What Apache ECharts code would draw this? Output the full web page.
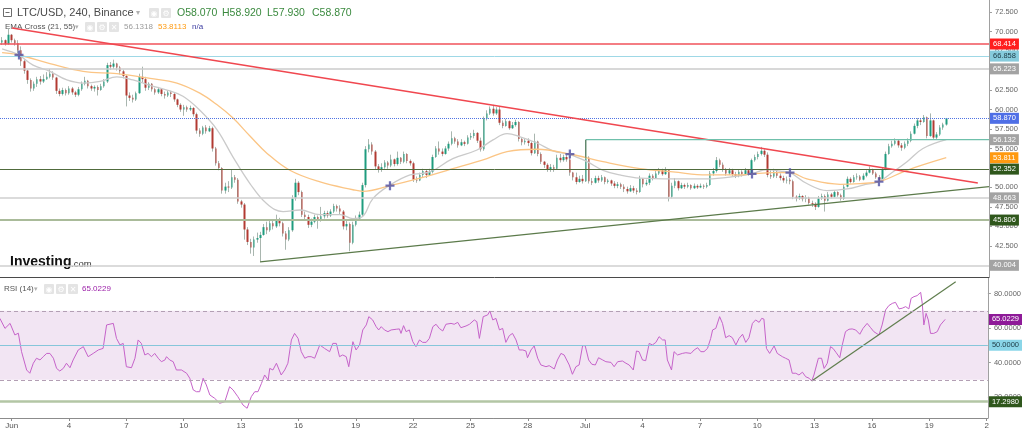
<!DOCTYPE html>
<html><head><meta charset="utf-8">
<script src="https://cdn.jsdelivr.net/npm/echarts@6/dist/echarts.min.js"></script>
<style>html,body{margin:0;padding:0;background:#fff}#c{width:1024px;height:430px}</style>
</head><body><div id="c"></div>
<script>
// ---------- DATA ----------
// 4h candles, index k: k=0 is May 31 12:00, k=3 is Jun 1 00:00 (6 candles per day)
const firstOpen = 68.6;
// [close, high, low]; each candle opens at the previous close
const candles = [
[68.9,69.3,68.3],[68.4,69.0,68.2],[69.6,70.4,68.3],[68.9,69.7,68.6],[68.5,69.1,68.2],[67.6,68.9,67.2],
[66.2,68.1,65.6],[65.0,66.4,64.6],[63.8,65.1,63.3],[62.7,64.0,62.3],[63.3,63.6,62.4],[63.9,64.2,62.9],
[63.6,64.3,63.2],[63.9,64.5,63.4],[64.2,64.8,63.8],[64.6,65.2,64.0],[64.1,64.9,63.8],[62.4,64.2,62.0],
[62.0,62.7,61.7],[62.5,62.8,61.8],[62.1,62.7,61.8],[62.7,63.0,61.9],[62.2,62.9,61.9],[61.9,62.4,61.6],
[62.6,62.9,61.7],[63.3,63.6,62.4],[63.7,64.2,63.1],[63.0,63.8,62.7],[62.7,63.2,62.4],[62.9,63.1,62.3],
[62.5,63.1,61.8],[63.0,63.3,62.4],[63.6,63.9,62.8],[65.7,66.0,63.4],[65.5,66.1,65.1],[65.9,66.4,65.2],
[65.4,66.0,65.0],[64.9,65.6,64.5],[64.3,65.1,64.0],[61.8,64.4,60.4],[61.5,62.2,61.1],[61.3,61.9,60.9],
[62.1,62.3,61.1],[64.2,64.6,62.0],[63.9,65.5,63.5],[62.8,64.2,62.4],[63.3,63.5,62.5],[62.6,63.4,62.3],
[62.2,62.8,61.9],[62.6,62.9,62.0],[62.0,62.7,61.7],[61.8,62.3,61.4],[62.2,62.5,61.6],[62.0,62.4,61.6],
[61.3,62.1,61.0],[60.6,61.4,60.3],[60.0,60.8,59.7],[60.3,60.6,59.2],[60.0,60.5,59.7],[60.2,60.5,59.8],
[59.4,60.3,59.1],[57.3,59.6,56.9],[56.9,57.6,56.5],[57.7,57.9,56.7],[57.2,58.0,56.9],[57.6,57.9,57.1],
[55.0,57.8,54.6],[53.1,55.2,52.8],[52.5,53.4,52.2],[49.6,52.6,49.2],[50.1,50.6,49.2],[50.0,50.8,49.4],
[51.3,52.3,49.8],[51.0,51.6,50.6],[48.2,51.2,47.9],[47.8,48.4,47.4],[44.6,48.0,43.3],[43.0,44.9,42.6],
[42.3,43.4,41.5],[43.3,43.7,41.2],[43.5,44.2,42.9],[43.9,44.3,40.5],[44.9,45.3,43.8],[44.5,45.6,44.0],
[45.4,45.8,44.3],[45.0,45.9,44.6],[45.9,46.5,44.8],[45.4,46.1,45.0],[44.1,45.6,43.7],[43.3,44.4,42.0],
[44.5,44.9,43.1],[48.6,49.0,44.3],[50.6,51.1,48.3],[49.4,50.8,49.0],[46.5,49.6,46.2],[46.2,46.9,45.7],
[45.2,46.5,44.8],[45.6,46.0,44.9],[46.2,46.5,45.4],[45.7,46.4,44.7],[46.3,47.5,45.6],[46.7,47.0,46.0],
[46.4,47.0,46.1],[46.9,47.2,46.2],[47.6,47.9,46.7],[47.3,47.8,46.9],[46.9,47.7,46.5],[45.0,47.1,44.6],
[45.3,45.8,44.5],[42.9,45.5,41.8],[45.2,45.6,42.7],[46.0,46.4,45.0],[46.5,46.9,45.8],[50.3,50.6,46.3],
[54.9,55.3,50.0],[55.5,56.2,54.5],[54.6,55.8,54.2],[52.7,54.8,52.3],[52.3,53.0,51.9],[52.6,53.1,52.0],
[53.2,53.5,52.4],[52.8,53.4,52.4],[53.6,54.2,52.6],[53.0,53.7,52.7],[53.8,54.6,52.8],[53.3,53.9,53.0],
[54.3,54.6,53.1],[53.4,54.4,53.1],[53.1,53.6,52.8],[51.0,53.3,50.7],[50.9,51.4,50.6],[51.6,51.9,50.8],
[52.1,52.4,51.3],[51.6,52.3,51.2],[52.0,52.4,51.5],[53.9,54.2,51.8],[55.0,55.3,53.8],[54.6,55.9,54.2],
[54.3,55.0,54.0],[55.0,55.3,54.2],[55.6,55.9,54.7],[56.3,57.2,55.4],[55.9,56.5,55.6],[55.4,56.2,55.1],
[55.8,56.2,55.3],[55.6,56.0,55.3],[56.4,56.7,55.5],[56.6,57.0,56.1],[57.0,57.4,56.3],[56.0,57.1,55.7],
[54.9,56.4,54.6],[58.8,59.1,54.7],[59.5,59.9,58.6],[60.1,60.4,59.3],[59.5,60.6,59.2],[60.0,60.3,59.3],
[58.3,60.4,58.0],[57.9,58.6,57.6],[58.5,58.8,57.8],[57.6,58.6,57.4],[58.0,58.4,57.5],[58.4,58.7,57.8],
[56.2,58.5,55.9],[55.8,56.4,55.4],[56.0,56.3,55.5],[55.7,56.3,55.3],[54.4,55.9,54.1],[55.9,56.9,54.3],
[54.3,56.0,54.0],[53.3,54.5,53.0],[52.9,53.4,52.5],[52.3,53.1,52.0],[52.6,53.0,52.0],[52.4,52.9,52.0],
[53.8,54.2,52.3],[53.5,54.3,53.2],[53.9,54.2,53.3],[53.6,54.2,53.3],[51.9,54.0,51.5],[51.3,52.0,50.9],
[50.7,51.9,50.4],[51.1,51.5,50.6],[50.8,51.6,50.5],[53.8,56.1,50.7],[50.8,54.0,50.5],[50.6,51.2,50.3],
[51.2,51.5,50.5],[50.9,51.5,50.6],[51.3,51.6,50.7],[50.7,51.4,50.4],[50.9,51.1,50.5],[50.5,51.0,50.2],
[50.2,50.8,49.9],[50.4,50.7,49.9],[50.1,50.6,49.8],[49.8,50.4,49.4],[49.5,50.1,49.2],[49.9,50.3,49.4],
[49.6,50.2,49.3],[49.4,49.9,49.1],[51.1,51.5,49.3],[50.4,51.2,50.0],[50.6,51.0,50.2],[51.5,51.8,50.3],
[51.2,51.7,50.9],[51.8,52.1,51.1],[52.2,52.5,51.6],[51.7,52.4,51.5],[52.3,52.6,51.6],[48.8,52.3,48.2],
[50.2,50.6,48.6],[50.8,51.2,49.9],[49.9,50.9,49.6],[50.3,50.6,49.8],[50.1,50.5,49.8],[50.3,50.6,49.9],
[49.9,50.4,49.7],[50.2,50.5,49.8],[50.0,50.4,49.8],[50.2,50.5,49.9],[50.1,50.4,49.8],[50.3,50.6,49.9],
[51.8,52.1,50.2],[52.1,52.5,51.5],[53.5,53.9,51.9],[52.9,53.7,52.6],[52.3,53.2,52.0],[51.8,52.5,51.5],
[52.2,52.5,51.6],[51.7,52.4,51.4],[51.5,52.0,51.2],[52.0,52.3,51.3],[51.7,52.2,51.4],[52.2,52.5,51.6],
[51.8,52.3,51.5],[53.5,53.7,51.6],[53.9,54.2,53.3],[54.3,54.6,53.6],[54.7,55.2,54.1],[54.2,54.9,53.9],
[51.6,54.5,51.3],[51.4,52.2,51.1],[52.0,52.4,51.2],[51.5,52.2,51.2],[51.2,51.8,50.9],[50.9,51.5,50.6],
[51.0,51.4,50.5],[50.8,51.2,50.4],[48.8,51.0,48.5],[48.6,49.0,48.2],[48.9,49.2,48.4],[48.5,49.0,48.2],
[48.7,49.0,48.1],[48.0,48.8,47.8],[47.9,48.3,47.5],[47.5,48.1,47.1],[48.6,48.9,47.4],[48.9,49.2,48.4],
[48.3,49.1,46.9],[49.1,49.4,48.2],[48.8,49.3,48.6],[49.4,49.6,48.7],[49.0,49.5,48.8],[48.5,49.2,48.3],
[50.1,50.4,48.4],[51.1,51.4,50.0],[50.7,51.3,50.5],[51.3,51.6,50.6],[51.4,51.8,51.0],[51.0,51.6,50.8],
[51.5,51.8,50.9],[51.9,52.2,51.3],[52.3,52.7,51.8],[51.8,52.4,51.6],[51.3,52.0,51.1],[51.0,51.6,50.8],
[52.3,52.5,50.9],[54.3,54.6,52.2],[55.3,55.6,54.2],[55.6,56.0,55.1],[56.0,56.3,55.4],[55.4,56.2,55.1],
[55.1,55.7,54.7],[55.6,55.9,54.9],[56.0,56.3,55.3],[56.9,57.2,55.8],[57.9,58.2,56.8],[58.6,58.9,57.6],
[58.4,58.9,58.0],[59.0,59.3,58.3],[56.6,59.1,56.3],[58.6,59.5,56.5],[56.4,58.7,56.2],[56.8,57.1,56.1],
[57.7,58.0,56.6],[58.07,58.3,57.4],[58.87,58.92,57.93]
];
// EMA lines: [candle index, value]
const ema21 = [[0,67.8],[3,67.4],[5.3,67.0],[9.7,65.7],[15,64.9],[20.3,63.8],[25.4,63.4],[30.7,63.6],[36,64.2],[41,63.8],[46.4,63.1],[51.7,62.5],[56.7,61.7],[62,59.9],[67.4,57.4],[72.4,53.9],[77.7,50.5],[83,47.9],[88.1,46.9],[93.4,47.1],[99.7,46.5],[106,46.5],[110,46.0],[112.8,46.2],[116.3,48.6],[121.6,50.3],[127.9,51.6],[134.1,52.0],[141.3,53.7],[148.9,54.8],[153.9,56.1],[158.3,56.9],[162.4,56.5],[167.7,55.7],[172.7,54.7],[178,54.2],[183.4,53.3],[188.4,52.2],[193.7,51.6],[200,51.2],[210.3,51.1],[221,51.1],[231.3,51.5],[235.1,51.75],[239.8,52.3],[243.9,52.1],[247,51.9],[252.3,50.5],[258.6,49.6],[264.9,49.8],[269.9,50.3],[274.9,50.75],[278.3,51.7],[283.7,53.3],[288.7,55.0],[296,56.13]];
const ema55 = [[0,67.3],[5.3,67.0],[15,65.9],[25.4,64.9],[36,64.6],[46.4,64.0],[54.8,63.4],[62,62.1],[67.4,60.6],[72.4,58.9],[77.7,56.6],[83,54.4],[90.2,52.2],[99.7,50.7],[110,49.7],[113.1,49.5],[121.6,50.22],[131,51.2],[141.3,52.4],[152,53.7],[158.3,54.6],[167.7,54.9],[178,54.29],[188.4,53.3],[200,52.4],[210.3,52.0],[221,51.6],[231.3,51.6],[235.1,51.73],[241.7,51.9],[247,51.89],[252.3,51.1],[262.7,50.4],[269,50.5],[274.9,50.74],[283.7,52.2],[296,53.81]];
const emaCrosses = [[5.3,67.0],[121.6,50.22],[178.0,54.29],[235.1,51.73],[247.0,51.89],[274.9,50.74]];
// drawn lines: [candle index, price]
const resistanceLine = [[3.1,70.47],[305.9,50.57]];
const supportLine = [[80.85,40.43],[309.4,50.09]];
const boxTop = [[183,56.132],[309.4,56.132]];
const boxSide = [[183,53.8],[183,56.132]];
// horizontal price levels and value boxes
const mainLevels = [68.414, 66.858, 65.223, 58.870, 56.132, 53.811, 52.352, 48.663, 45.806, 40.004];
// RSI(14): [candle index, value]
const rsi = [[-0.7,65.6],[0.9,59.8],[2.5,62.7],[3.0,63.7],[4.0,56.0],[5.1,57.0],[6.1,46.3],[7.7,35.7],[8.7,33.8],[9.8,39.6],[10.8,42.5],[11.9,41.5],[12.9,43.4],[14.0,45.3],[15.0,45.3],[16.1,42.5],[17.1,36.6],[18.1,35.1],[19.2,36.6],[20.2,39.6],[21.3,37.0],[22.3,41.5],[23.9,47.3],[25.5,49.2],[27.0,43.4],[28.6,45.3],[30.2,47.3],[31.7,48.2],[32.8,61.8],[34.9,62.7],[35.9,54.0],[37.0,50.2],[38.0,51.1],[39.0,37.6],[40.6,37.0],[41.7,42.5],[42.7,53.1],[43.7,51.1],[44.8,44.4],[45.8,45.3],[46.9,43.4],[47.9,45.3],[49.0,42.5],[50.0,40.5],[51.1,41.5],[51.6,43.4],[52.6,41.5],[53.7,40.5],[54.7,35.7],[56.3,35.7],[57.9,33.8],[58.9,30.9],[60.0,24.1],[61.0,23.1],[62.0,23.1],[63.1,30.9],[64.1,27.0],[65.2,21.2],[66.7,19.3],[68.3,16.4],[69.9,17.3],[71.4,26.0],[72.5,24.1],[74.0,20.2],[75.6,15.4],[76.9,13.5],[78.2,20.2],[79.3,23.1],[80.3,23.1],[81.4,27.9],[82.4,32.8],[83.5,29.9],[84.0,36.6],[85.0,35.7],[86.1,39.6],[87.6,32.8],[88.7,35.7],[89.7,39.6],[90.8,53.1],[91.8,56.9],[92.9,54.0],[93.9,46.3],[95.0,42.5],[96.0,43.4],[97.0,43.4],[98.1,42.5],[99.7,50.2],[101.2,48.2],[102.8,46.3],[103.8,51.1],[104.9,51.1],[105.9,43.4],[106.9,44.4],[108.0,43.4],[108.8,37.6],[110.1,52.1],[111.1,47.3],[112.2,50.2],[113.2,58.9],[114.3,61.8],[115.1,66.6],[116.3,64.7],[117.4,60.8],[118.2,58.9],[119.0,60.8],[120.0,58.9],[121.1,57.9],[122.1,58.9],[123.7,59.3],[124.7,59.5],[125.2,56.9],[126.0,61.4],[126.8,57.9],[127.8,58.9],[128.9,52.1],[129.9,49.2],[131.0,53.1],[132.0,51.7],[133.1,51.7],[134.1,54.0],[135.2,60.8],[136.2,62.2],[137.2,59.8],[138.3,58.3],[139.3,62.2],[140.9,62.7],[141.9,62.2],[143.0,63.3],[144.0,60.2],[145.6,61.2],[146.7,62.2],[148.2,64.7],[149.0,63.7],[149.8,54.0],[151.0,66.6],[152.4,67.6],[153.1,69.9],[154.0,64.7],[155.0,65.6],[156.1,58.9],[157.1,59.8],[158.1,51.7],[159.2,55.6],[160.2,56.9],[161.3,53.1],[162.3,47.3],[163.4,47.3],[164.4,46.7],[164.9,42.8],[166.0,47.3],[167.0,49.6],[168.1,42.5],[169.1,38.6],[170.7,37.6],[171.7,38.2],[173.3,36.3],[174.3,41.5],[175.4,45.3],[176.4,44.4],[178.0,38.6],[179.0,33.2],[180.1,37.6],[181.1,38.6],[182.2,49.8],[183.0,49.8],[184.1,41.5],[185.1,39.0],[186.2,38.6],[187.2,42.8],[188.5,41.5],[189.5,40.5],[191.1,40.1],[192.1,37.6],[193.2,40.5],[194.7,40.9],[195.8,39.6],[196.8,38.6],[198.1,35.7],[199.1,46.7],[199.9,46.3],[201.0,41.5],[202.0,41.1],[203.1,51.1],[204.1,50.2],[205.2,51.7],[206.2,55.0],[207.3,53.1],[208.1,53.1],[208.8,41.5],[210.1,35.7],[210.9,46.3],[212.0,44.4],[213.5,45.3],[214.6,45.7],[216.2,45.3],[217.2,47.3],[218.3,48.6],[219.3,46.3],[220.3,46.3],[221.4,48.2],[222.4,54.0],[223.0,58.9],[224.0,59.8],[225.2,66.6],[226.1,62.7],[227.1,54.4],[228.2,55.6],[229.2,54.4],[230.3,50.2],[231.3,54.0],[232.4,56.4],[233.4,51.7],[234.4,54.4],[235.5,62.7],[236.5,64.7],[237.6,63.3],[238.4,65.6],[239.1,65.2],[239.9,48.2],[240.9,45.3],[242.3,49.6],[243.3,45.3],[244.9,43.4],[245.9,42.5],[247.0,41.5],[248.0,33.8],[249.1,33.8],[250.1,32.8],[251.2,34.4],[252.2,31.8],[253.3,30.9],[254.1,29.3],[254.8,32.8],[256.2,42.5],[257.2,42.5],[258.0,36.6],[259.0,39.6],[260.0,49.2],[260.8,48.2],[261.8,45.7],[262.9,42.8],[263.7,50.2],[264.7,57.9],[265.8,59.3],[266.8,59.5],[267.9,58.9],[269.2,56.4],[270.2,59.8],[271.5,62.7],[272.6,60.2],[273.6,57.9],[275.2,56.0],[276.2,61.8],[277.3,70.5],[278.3,73.0],[279.4,74.3],[280.4,74.9],[281.5,71.1],[282.5,71.5],[283.6,72.4],[284.6,71.1],[285.3,77.2],[286.2,78.2],[287.2,78.8],[288.3,80.7],[288.8,74.3],[289.3,61.8],[290.0,68.5],[290.7,64.7],[291.4,56.9],[292.4,56.9],[293.5,57.9],[294.5,61.8],[296,65.0229]];
const rsiSupport = [[254.1,29.3],[299.3,86.9]];
const rsiLevels = [70, 30, 50, 17.298, 65.0229];
// axes
const tickDays = [0,3,6,9,12,15,18,21,24,27,30,33,36,39,42,45,48,51];
const tickLabels = ['Jun','4','7','10','13','16','19','22','25','28','Jul','4','7','10','13','16','19','2'];
const priceTicks = [42.5,45,47.5,50,52.5,55,57.5,60,62.5,65,67.5,70,72.5];
const rsiTicks = [20,40,60,80];
const headerOHLC = ['O58.070','H58.920','L57.930','C58.870'];
const emaHeader = ['56.1318','53.8113','n/a'];

// ---------- BUILD ----------
const FONT = '"Liberation Sans", Arial, sans-serif';
const K_JUN1 = 3, PER_DAY = 6;
const tickK = tickDays.map(d => K_JUN1 + PER_DAY * d);
const X_MIN = -0.66, X_MAX = 309.4;

const wicks = [], bodies = [];
let prev = firstOpen;
candles.forEach(([c, h, l], i) => {
  const o = prev;
  wicks.push([i, o, c, Math.min(l, o, c), Math.max(h, o, c)]);
  bodies.push([i, o, c, Math.min(o, c), Math.max(o, c)]);
  prev = c;
});

const NONE = 'rgba(0,0,0,0)';
const mainStyles = [
  {line:'#f0525a', w:1.5, type:'solid', bg:'#ff1e1e', fg:'#fff'},
  {line:'#9ed8e6', w:1, type:'solid', bg:'#86cbdc', fg:'#1d3a44'},
  {line:'#cbcbcb', w:1.5, type:'solid', bg:'#a3a3a3', fg:'#fff'},
  {line:'#4f73e3', w:1, type:'dotted', bg:'#4f6fe6', fg:'#fff'},
  {line:NONE, w:1, type:'solid', bg:'#a3a3a3', fg:'#fff'},
  {line:NONE, w:1, type:'solid', bg:'#ff9a10', fg:'#fff'},
  {line:'#506b3c', w:1, type:'solid', bg:'#2f571c', fg:'#fff'},
  {line:'#cfcfcf', w:1.5, type:'solid', bg:'#a3a3a3', fg:'#fff'},
  {line:'#aabb9a', w:2, type:'solid', bg:'#2f571c', fg:'#fff'},
  {line:'#cfcfcf', w:1.5, type:'solid', bg:'#a3a3a3', fg:'#fff'}
];
const rsiStyles = [
  {line:'#b39fb4', w:1, type:[4,3], bg:null},
  {line:'#b39fb4', w:1, type:[4,3], bg:null},
  {line:'#86c6da', w:1, type:'solid', bg:'#8ad6e8', fg:'#1d3a44'},
  {line:'#b3c6a5', w:2.5, type:'solid', bg:'#2f571c', fg:'#fff'},
  {line:NONE, w:1, type:'solid', bg:'#8e1a98', fg:'#fff'}
];
function level(v, s, digits) {
  return {
    yAxis: v,
    lineStyle: {color: s.line, width: s.w, type: s.type},
    label: s.bg ? {show: true, position: 'end', distance: 1, formatter: v.toFixed(digits),
      backgroundColor: s.bg, color: s.fg, padding: [2, 3, 1, 3], fontSize: 7.5, fontFamily: FONT} : {show: false}
  };
}

const chart = echarts.init(document.getElementById('c'), null, {renderer: 'canvas'});
const axisLbl = {fontSize: 7.5, color: '#666', fontFamily: FONT};
const icon = (x, y, g) => [
  {type:'rect', shape:{x:x, y:y, width:10, height:10, r:1}, style:{fill:'#e4e4e4'}},
  {type:'text', x:x+5, y:y+5.5, style:{text:g, fill:'#fff', font:'8px "DejaVu Sans"', align:'center', verticalAlign:'middle'}}
];
const txt = (x, y, t, size, color, weight) => ({type:'text', x:x, y:y,
  style:{text:t, fill:color, font:(weight||'normal') + ' ' + size + 'px ' + FONT, verticalAlign:'middle'}});

const graphics = [
  {type:'rect', shape:{x:3.5, y:8.5, width:8, height:8}, style:{fill:'none', stroke:'#6d6d6d', lineWidth:1}},
  {type:'line', shape:{x1:5.5, y1:12.5, x2:9.5, y2:12.5}, style:{stroke:'#6d6d6d', lineWidth:1}},
  txt(17, 13, 'LTC/USD, 240, Binance', 11, '#4a4a4a'),
  txt(136, 13, '▾', 8, '#b0b0b0'),
  ...icon(149, 8, '◉'), ...icon(161, 8, '⚙'),
  txt(177, 13, headerOHLC[0], 10.5, '#3b8a3f'),
  txt(222, 13, headerOHLC[1], 10.5, '#3b8a3f'),
  txt(267, 13, headerOHLC[2], 10.5, '#3b8a3f'),
  txt(312, 13, headerOHLC[3], 10.5, '#3b8a3f'),
  txt(5, 27, 'EMA Cross (21, 55)', 8, '#555'),
  txt(75, 27, '▾', 7, '#b0b0b0'),
  ...icon(85, 22, '◉'), ...icon(97, 22, '⚙'), ...icon(109, 22, '✕'),
  txt(124, 27, emaHeader[0], 8, '#9b9b9b'),
  txt(158, 27, emaHeader[1], 8, '#ff9a10'),
  txt(192, 27, emaHeader[2], 8, '#3b3ba0'),
  txt(10, 262, 'Investing', 14, '#111', 'bold'),
  txt(71, 264, '.com', 9.5, '#333'),
  txt(4, 289, 'RSI (14)', 8, '#555'),
  txt(34, 289, '▾', 7, '#b0b0b0'),
  ...icon(44, 284, '◉'), ...icon(56, 284, '⚙'), ...icon(68, 284, '✕'),
  txt(82, 289, '65.0229', 8, '#9b1fa8')
];

const option = {
  animation: false,
  backgroundColor: '#fff',
  grid: [
    {left: 0, right: 35, top: 0, height: 277},
    {left: 0, right: 35, top: 278, height: 140}
  ],
  xAxis: [
    {type:'value', gridIndex:0, min:X_MIN, max:X_MAX,
      axisLine:{show:true, onZero:false, lineStyle:{color:'#4a4a4a', width:1}},
      axisTick:{show:false}, axisLabel:{show:false}, splitLine:{show:false}},
    {type:'value', gridIndex:1, min:X_MIN, max:X_MAX,
      axisLine:{show:true, onZero:false, lineStyle:{color:'#8c8c8c', width:1}},
      axisTick:{show:true, length:3, customValues:tickK, lineStyle:{color:'#8c8c8c'}},
      axisLabel:{show:true, customValues:tickK, margin:4, fontSize:8, color:'#555', fontFamily:FONT,
        formatter: v => { const i = tickK.indexOf(Math.round(v)); return i >= 0 ? tickLabels[i] : ''; }},
      splitLine:{show:false}}
  ],
  yAxis: [
    {type:'value', gridIndex:0, position:'right', min:38.5, max:74.06,
      axisLine:{show:true, onZero:false, lineStyle:{color:'#a0a0a0'}},
      axisTick:{show:true, length:3, customValues:priceTicks, lineStyle:{color:'#a0a0a0'}},
      axisLabel:Object.assign({customValues:priceTicks, margin:6, formatter: v => v.toFixed(3)}, axisLbl),
      splitLine:{show:false}},
    {type:'value', gridIndex:1, position:'right', min:7.86, max:89.01,
      axisLine:{show:true, onZero:false, lineStyle:{color:'#a0a0a0'}},
      axisTick:{show:true, length:3, customValues:rsiTicks, lineStyle:{color:'#a0a0a0'}},
      axisLabel:Object.assign({customValues:rsiTicks, margin:6, formatter: v => v.toFixed(4)}, axisLbl),
      splitLine:{show:false}}
  ],
  series: [
    {type:'line', name:'levels', xAxisIndex:0, yAxisIndex:0, data:[], z:1, silent:true,
      markLine:{silent:true, symbol:['none','none'], animation:false,
        data: mainLevels.map((v, i) => level(v, mainStyles[i], 3))}},
    {type:'candlestick', name:'wick', xAxisIndex:0, yAxisIndex:0, data:wicks, encode:{x:0, y:[1,2,3,4]},
      barWidth:1, z:2, silent:true,
      itemStyle:{color:'#a9b6af', color0:'#a9b6af', borderColor:'#a9b6af', borderColor0:'#a9b6af', borderWidth:1}},
    {type:'candlestick', name:'body', xAxisIndex:0, yAxisIndex:0, data:bodies, encode:{x:0, y:[1,2,3,4]},
      barWidth:2, z:3, silent:true,
      itemStyle:{color:'#1f9c7e', color0:'#b23a32', borderColor:'#1f9c7e', borderColor0:'#b23a32', borderWidth:0}},
    {type:'line', name:'EMA21', xAxisIndex:0, yAxisIndex:0, data:ema21, smooth:0.4, showSymbol:false, z:4,
      lineStyle:{color:'#cacaca', width:1.3}, silent:true},
    {type:'line', name:'EMA55', xAxisIndex:0, yAxisIndex:0, data:ema55, smooth:0.4, showSymbol:false, z:4,
      lineStyle:{color:'#fbc585', width:1.3}, silent:true},
    {type:'line', name:'resistance', xAxisIndex:0, yAxisIndex:0, data:resistanceLine, showSymbol:false, z:5,
      lineStyle:{color:'#f0474f', width:1.5}, silent:true},
    {type:'line', name:'support', xAxisIndex:0, yAxisIndex:0, data:supportLine, showSymbol:false, z:5,
      lineStyle:{color:'#5b7a4a', width:1.2}, silent:true},
    {type:'line', name:'boxTop', xAxisIndex:0, yAxisIndex:0, data:boxTop, showSymbol:false, z:5,
      lineStyle:{color:'#6fc0ab', width:1.2}, silent:true},
    {type:'line', name:'boxSide', xAxisIndex:0, yAxisIndex:0, data:boxSide, showSymbol:false, z:5,
      lineStyle:{color:'#4d7c5c', width:1.2}, silent:true},
    {type:'scatter', name:'cross', xAxisIndex:0, yAxisIndex:0, data:emaCrosses, z:6, silent:true,
      symbol:'path://M3,0H5V3H8V5H5V8H3V5H0V3H3Z', symbolSize:9, itemStyle:{color:'#4d4fa5'}},
    {type:'line', name:'rsiBand', xAxisIndex:1, yAxisIndex:1, data:[], z:1, silent:true,
      markArea:{silent:true, itemStyle:{color:'#f2e5f3'}, data:[[{yAxis:30},{yAxis:70}]]},
      markLine:{silent:true, symbol:['none','none'], animation:false,
        data: rsiLevels.map((v, i) => level(v, rsiStyles[i], 4))}},
    {type:'line', name:'RSI', xAxisIndex:1, yAxisIndex:1, data:rsi, showSymbol:false, z:3,
      lineStyle:{color:'#c563c9', width:1}, silent:true},
    {type:'line', name:'rsiSupport', xAxisIndex:1, yAxisIndex:1, data:rsiSupport, showSymbol:false, z:4,
      lineStyle:{color:'#5f7d4d', width:1.2}, silent:true}
  ],
  graphic: graphics
};
chart.setOption(option);
</script>
</body></html>
